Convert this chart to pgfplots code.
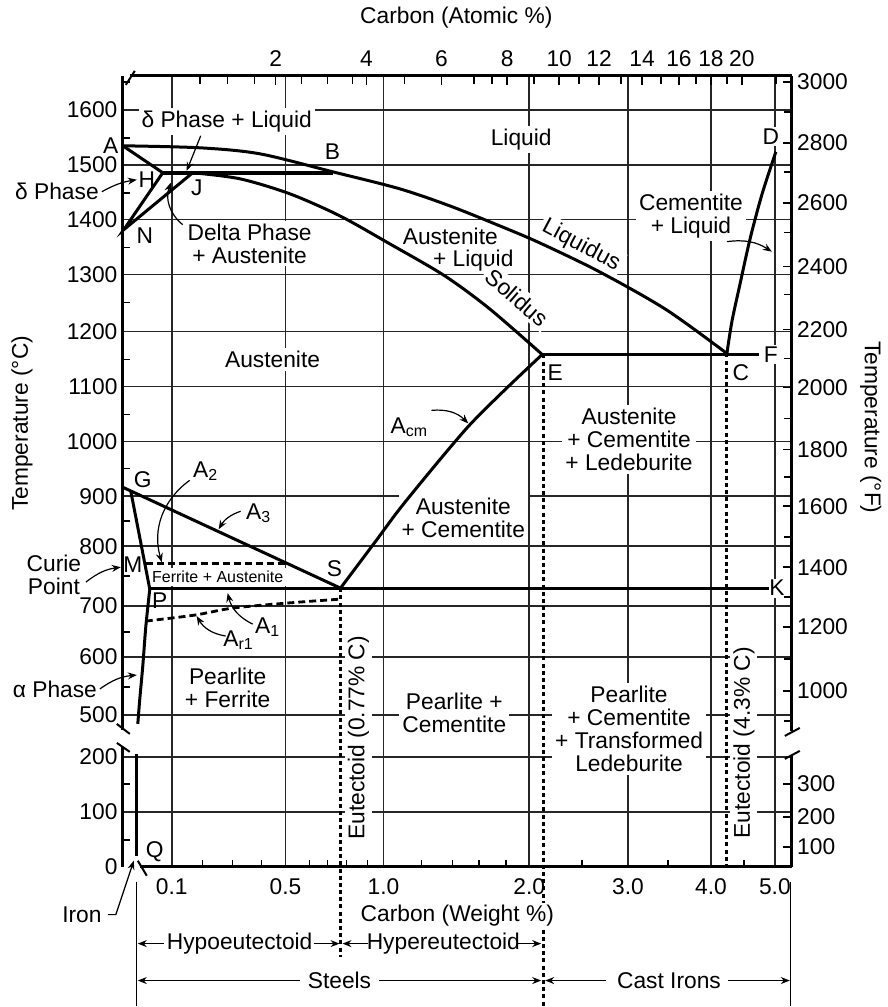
\documentclass[border=0pt]{standalone}
\usepackage{fontspec}
\setmainfont{Liberation Sans}
\usepackage{pgfplots}
\pgfplotsset{compat=1.18}
\usetikzlibrary{arrows.meta}
\newcommand{\lf}{\fontsize{11.4}{11.5}\selectfont}
\newcommand{\smallf}{\fontsize{8}{9}\selectfont}
\begin{document}
\begin{tikzpicture}[
  lab/.style={fill=white, inner sep=1.5pt, align=center, font=\lf},
  let/.style={inner sep=0pt, font=\lf},
  letw/.style={inner sep=0.8pt, fill=white, font=\lf},
  arr/.style={line width=0.6pt, -{Stealth[length=4.5pt,width=3.5pt]}},
  axl/.style={line width=1.5pt, black},
  ph/.style={line width=1.5pt, black, no marks},
  dsh/.style={line width=1.4pt, black, no marks, dash pattern=on 3.5pt off 2pt},
  dot/.style={line width=1.5pt, black, no marks, dash pattern=on 2pt off 1.6pt},
]
\begin{axis}[
  scale only axis, width=335pt, height=396pt,
  xmin=123, xmax=793, ymin=76, ymax=868, y dir=reverse,
  clip=false,
  axis line style={draw=none},
  tick align=inside,
  xtick pos=left, ytick pos=left,
  xtick={172,286,384,530,629,712,776},
  xticklabels={0.1,0.5,1.0,2.0,3.0,4.0,5.0},
  minor xtick={203,233,262,310,328,347,368,422,453,480,507,583,669,745},
  ytick={110,165,220,275,332,387,442,497,547,607,658,716,758,813},
  yticklabels={1600,1500,1400,1300,1200,1100,1000,900,800,700,600,500,200,100},
  extra y ticks={868}, extra y tick labels={0},
  extra y tick style={grid=none},
  minor ytick={82,138,193,248,303,360,415,469,522,577,633,688,785,841},
  major tick length=0pt, minor tick length=3.5pt,
  grid=major,
  major grid style={black!85, line width=0.8pt},
  minor tick style={line width=0.8pt, black},
  tick label style={font=\lf},
  xticklabel style={yshift=-4.5pt, inner sep=1.5pt},
  yticklabel style={xshift=-1pt, inner sep=1.5pt},
  /pgf/number format/assume math mode=true,
]
% bounding box of the whole picture
\path (0,0) rectangle (886,1007);

% axis lines with breaks
\draw[axl] (123,76) -- (123,731);
\draw[axl] (123,748) -- (123,868);
\draw[axl] (793,76) -- (793,732);
\draw[axl] (793,757) -- (793,868);
\draw[axl] (130,76) -- (793,76);
\draw[axl] (140,868) -- (793,868);
\draw[line width=1pt] (117,725) -- (130,735);
\draw[line width=1pt] (117,744) -- (130,753);
\draw[line width=1pt] (786,737) -- (801,729);
\draw[line width=1pt] (786,760) -- (801,752);
\draw[line width=1pt] (126,85) -- (135,71);
\draw[line width=1pt] (138,862) -- (147,877);

% titles
\node[font=\lf] at (457,18) {Carbon (Atomic \%)};
\node[font=\lf, rotate=90] at (22,424) {Temperature (°C)};
\node[font=\lf, rotate=-90] at (872,428) {Temperature (°F)};

% region labels
\node[lab] at (227,122) {δ Phase + Liquid};
\node[lab] at (522,140) {Liquid};
\node[lab] at (692,216) {Cementite\\+ Liquid};
\node[lab] at (250,244) {Delta Phase\\+ Austenite};
\node[lab] at (451,237) {Austenite};
\node[lab] at (474,261) {+ Liquid};
\node[lab, rotate=-28] at (582,246) {Liquidus};
\node[lab, rotate=-41] at (518,298) {Solidus};
\node[lab] at (273,360) {Austenite};
\node[lab] at (630,440) {Austenite\\+ Cementite\\+ Ledeburite};
\node[lab] at (464,519) {Austenite\\+ Cementite};
\node[lab, font=\smallf] at (218,578) {Ferrite + Austenite};
\node[lab] at (228,689) {Pearlite\\+ Ferrite};
\node[lab] at (455,714) {Pearlite +\\Cementite};
\node[lab] at (630,730) {Pearlite\\+ Cementite\\+ Transformed\\Ledeburite};
\node[lab, rotate=90] at (359,739) {Eutectoid (0.77\% C)};
\node[lab, rotate=90] at (745,744) {Eutectoid (4.3\% C)};

% point letters
\node[let] at (111,146) {A};
\node[let] at (333,152) {B};
\node[letw] at (772,137) {D};
\node[let] at (147,180) {H};
\node[let] at (197,188) {J};
\node[let] at (145,236) {N};
\node[let] at (556,373) {E};
\node[let] at (742,373) {C};
\node[letw] at (772,355) {F};
\node[let] at (143,480) {G};
\node[let] at (133,566) {M};
\node[let] at (335,570) {S};
\node[let] at (160,602) {P};
\node[letw] at (778,589) {K};
\node[let] at (155,853) {Q};
\node[let] at (410,428) {A\textsubscript{cm}};
\node[let] at (206,472) {A\textsubscript{2}};
\node[let] at (259,514) {A\textsubscript{3}};
\node[let] at (268,628) {A\textsubscript{1}};
\node[let] at (239,641) {A\textsubscript{r1}};
\node[font=\lf] at (57,192) {δ Phase};
\node[font=\lf, align=center] at (54,576) {Curie\\Point};
\node[font=\lf] at (55,690) {α Phase};
\node[font=\lf] at (82,916) {Iron};

% annotation arrows
\draw[arr] (201,136) -- (187,171);
\draw[arr] (102,192) to[bend left=10] (137,180);
\draw[arr] (183,225) to[bend left=35] (171,183);
\draw[arr] (728,242) to[bend left=20] (773,252);
\draw[arr] (432,411) to[bend left=25] (469,424);
\draw[arr] (190,481) to[bend right=35] (162,563);
\draw[arr] (241,512) to[bend right=20] (219,530);
\draw[arr] (86,583) to[bend left=15] (121,568);
\draw[arr] (253,625) to[bend left=25] (228,594);
\draw[arr] (226,637) to[bend left=25] (197,617);
\draw[arr] (100,690) to[bend left=15] (137,676);
\draw[arr] (108,916) -- (116,916) -- (134,862);

% composition ranges below the axis
\draw[line width=0.6pt] (137,883) -- (137,1007);
\draw[line width=0.6pt] (792,883) -- (792,1007);
\node[font=\lf] at (240,945) {Hypoeutectoid};
\node[font=\lf] at (444,945) {Hypereutectoid};
\node[font=\lf] at (340,982) {Steels};
\node[font=\lf] at (670,982) {Cast Irons};
\draw[arr] (164,945) -- (138,945);
\draw[arr] (314,945) -- (340,945);
\draw[arr] (369,945) -- (343,945);
\draw[arr] (518,945) -- (542,945);
\draw[arr] (300,982) -- (138,982);
\draw[arr] (380,982) -- (542,982);
\draw[arr] (607,982) -- (546,982);
\draw[arr] (729,982) -- (791,982);

% phase boundaries
\addplot[ph, smooth] coordinates {(123,146)(200,148)(260,154)(333,172)(400,189)(450,206)(500,226)(540,243)(600,272)(667,310)(728,354)};
\addplot[ph, smooth] coordinates {(193,173)(240,179)(290,194)(340,216)(390,244)(445,276)(490,309)(543,355)};
\addplot[ph, line width=1.9pt] coordinates {(163,173)(333,173)};
\addplot[ph] coordinates {(123,146)(163,173)(124,230)(193,173)};
\addplot[ph] coordinates {(543,355)(760,355)};
\addplot[ph, smooth] coordinates {(728,354)(733,322)(741,285)(751,240)(763,195)(777,152)};
\addplot[ph, smooth] coordinates {(341,589)(377,541)(400,510)(435,467)(470,426)(505,391)(543,355)};
\addplot[ph] coordinates {(123,488)(341,589)};
\addplot[ph] coordinates {(131,492)(150,590)};
\addplot[ph] coordinates {(150,589)(770,589)};
\addplot[ph, smooth] coordinates {(150,590)(146,628)(143,667)(140,700)(138,725)};
\addplot[ph] coordinates {(137,755)(137,857)};
\addplot[dsh] coordinates {(146,564)(287,564)};
\addplot[dsh, smooth] coordinates {(146,622)(195,616)(233,609)(287,604)(341,600)};
\addplot[dot] coordinates {(341,589)(341,958)};
\addplot[dot] coordinates {(544,355)(544,1007)};
\addplot[dot] coordinates {(728,354)(728,868)};

% x-axis title drawn over the dotted line, as in the reference
\node[font=\lf, fill=white, inner sep=1pt] at (458,917) {Carbon (Weight \%)};
\end{axis}

\begin{axis}[
  scale only axis, width=335pt, height=396pt,
  xmin=123, xmax=793, ymin=76, ymax=868, y dir=reverse,
  axis line style={draw=none},
  tick align=inside,
  xtick pos=right, ytick pos=right,
  xticklabel pos=right, yticklabel pos=right,
  xtick={276,367,442,508,560,600,643,680,712,743},
  xticklabels={2,4,6,8,10,12,14,16,18,20},
  minor xtick={200,228,255,302,328,353,405,475,493,535,580,622,662,697,728,777},
  ytick={82,143,203,267,330,388,450,507,568,628,692,785,818,848},
  yticklabels={3000,2800,2600,2400,2200,2000,1800,1600,1400,1200,1000,300,200,100},
  minor ytick={112,172,233,295,359,419,478,538,598,660,722},
  major tick length=4.5pt, minor tick length=4pt,
  every tick/.style={line width=0.8pt, black},
  tick label style={font=\lf},
  xticklabel style={yshift=3pt, inner sep=1.5pt},
  yticklabel style={xshift=1pt, inner sep=1.5pt},
]
\end{axis}
\end{tikzpicture}
\end{document}
